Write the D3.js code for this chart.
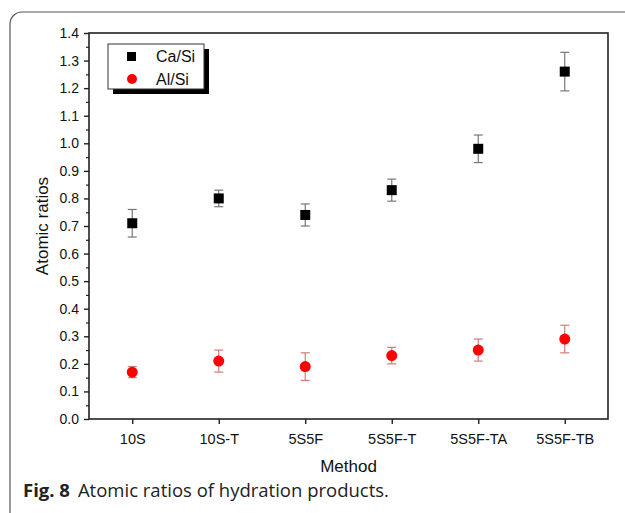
<!DOCTYPE html>
<html><head><meta charset="utf-8">
<script src="https://cdn.jsdelivr.net/npm/d3@7"></script>
<style>body{margin:0;background:#fff}svg{display:block}</style>
</head><body><svg id="c" width="625" height="513"></svg>
<script>
const categories = ["10S","10S-T","5S5F","5S5F-T","5S5F-TA","5S5F-TB"];
const caSi = [0.71,0.80,0.74,0.83,0.98,1.26];
const caSiErr = [0.05,0.03,0.04,0.04,0.05,0.07];
const alSi = [0.17,0.21,0.19,0.23,0.25,0.29];
const alSiErr = [0.02,0.04,0.05,0.03,0.04,0.05];
const yTicks = [0,0.1,0.2,0.3,0.4,0.5,0.6,0.7,0.8,0.9,1.0,1.1,1.2,1.3,1.4];

const svg = d3.select("#c");
const m = {l:89, r:608, t:33, b:419};
const font = "'Liberation Sans', Arial, sans-serif";

svg.append("rect").attr("x",10).attr("y",12).attr("width",660).attr("height",530)
  .attr("rx",12).attr("fill","none").attr("stroke","#555").attr("stroke-width",1.2);

const x = d3.scalePoint().domain(categories).range([m.l,m.r]).padding(0.5);
const y = d3.scaleLinear().domain([0,1.4]).range([m.b,m.t]);

svg.append("rect").attr("x",m.l).attr("y",m.t).attr("width",m.r-m.l).attr("height",m.b-m.t)
  .attr("fill","none").attr("stroke","#222").attr("stroke-width",1.6);

const ya = svg.append("g").attr("transform",`translate(${m.l},0)`)
  .call(d3.axisLeft(y).tickValues(yTicks).tickFormat(d3.format(".1f")).tickSize(5).tickSizeOuter(0));
ya.select(".domain").remove();
ya.selectAll("line").attr("stroke","#222").attr("stroke-width",1.4);
ya.selectAll("text").attr("font-family",font).attr("font-size",14).attr("fill","#111").attr("dx",-2);
const minor = d3.range(0.05,1.4,0.1);
const ym = svg.append("g").attr("transform",`translate(${m.l},0)`)
  .call(d3.axisLeft(y).tickValues(minor).tickFormat("").tickSize(3).tickSizeOuter(0));
ym.select(".domain").remove();
ym.selectAll("line").attr("stroke","#222").attr("stroke-width",1.2);

const xa = svg.append("g").attr("transform",`translate(0,${m.b})`)
  .call(d3.axisBottom(x).tickSize(5).tickSizeOuter(0));
xa.select(".domain").remove();
xa.selectAll("line").attr("stroke","#222").attr("stroke-width",1.4);
xa.selectAll("text").attr("font-family",font).attr("font-size",14.5).attr("fill","#111").attr("dy","1.2em");

svg.append("text").attr("x",(m.l+m.r)/2).attr("y",472).attr("text-anchor","middle")
  .attr("font-family",font).attr("font-size",17).attr("fill","#111").text("Method");
svg.append("text").attr("transform",`translate(48,${(m.t+m.b)/2}) rotate(-90)`).attr("text-anchor","middle")
  .attr("font-family",font).attr("font-size",17).attr("fill","#111").text("Atomic ratios");

function errBars(vals, errs, color){
  const g = svg.append("g").attr("stroke",color).attr("stroke-width",1.2);
  categories.forEach((c,i)=>{
    const cx = x(c), y1 = y(vals[i]-errs[i]), y2 = y(vals[i]+errs[i]);
    g.append("line").attr("x1",cx).attr("x2",cx).attr("y1",y1).attr("y2",y2);
    g.append("line").attr("x1",cx-4.5).attr("x2",cx+4.5).attr("y1",y1).attr("y2",y1);
    g.append("line").attr("x1",cx-4.5).attr("x2",cx+4.5).attr("y1",y2).attr("y2",y2);
  });
}
errBars(caSi, caSiErr, "#777");
errBars(alSi, alSiErr, "#d47a7a");

svg.append("g").selectAll("rect").data(caSi).join("rect")
  .attr("x",(d,i)=>x(categories[i])-5).attr("y",d=>y(d)-5).attr("width",10).attr("height",10).attr("fill","#000");
svg.append("g").selectAll("circle").data(alSi).join("circle")
  .attr("cx",(d,i)=>x(categories[i])).attr("cy",d=>y(d)).attr("r",5.5).attr("fill","#f00");

const lg = svg.append("g");
lg.append("rect").attr("x",113).attr("y",49).attr("width",96).attr("height",45).attr("fill","#000");
lg.append("rect").attr("x",108).attr("y",44).attr("width",96).attr("height",45).attr("fill","#fff").attr("stroke","#333").attr("stroke-width",1);
lg.append("rect").attr("x",127).attr("y",52).attr("width",9).attr("height",9).attr("fill","#000");
lg.append("circle").attr("cx",132).attr("cy",79).attr("r",5).attr("fill","#f00");
lg.append("text").attr("x",156).attr("y",62).attr("font-family",font).attr("font-size",16).attr("fill","#111").text("Ca/Si");
lg.append("text").attr("x",156).attr("y",85).attr("font-family",font).attr("font-size",16).attr("fill","#111").text("Al/Si");

const cap = svg.append("text").attr("x",23).attr("y",497).attr("font-family","'Open Sans', sans-serif").attr("font-size",18.5).attr("fill","#222");
cap.append("tspan").attr("font-weight","bold").text("Fig. 8");
cap.append("tspan").attr("dx",8).text("Atomic ratios of hydration products.");
</script></body></html>
